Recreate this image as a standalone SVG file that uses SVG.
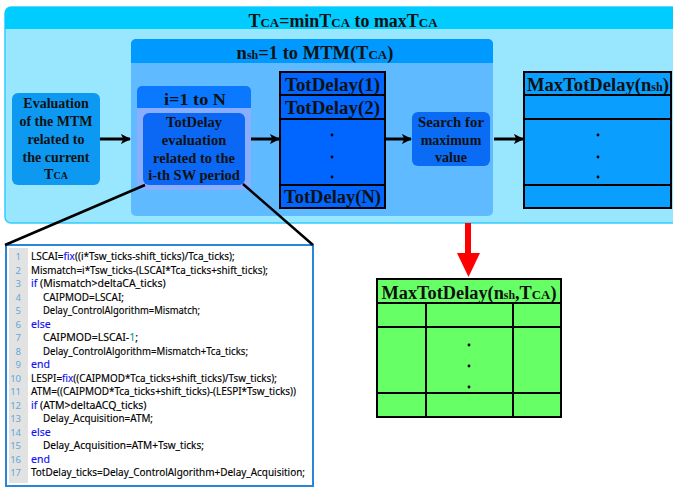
<svg xmlns="http://www.w3.org/2000/svg" width="673" height="487" viewBox="0 0 673 487">
<defs>
<marker id="ah" viewBox="0 0 10 10" refX="9" refY="5" markerWidth="3.4" markerHeight="3.4" orient="auto" markerUnits="strokeWidth">
<path d="M0,0 L10,5 L0,10 L2.5,5 Z" fill="#000"/>
</marker>
<style>
.t{font-family:"Liberation Serif","Times New Roman",serif;font-weight:bold;fill:#111;text-anchor:middle}
.c{font-family:"Noto Sans","Open Sans",sans-serif;font-size:10.5px;fill:#000;stroke:#000;stroke-width:0.15}
.n{font-family:"Noto Sans","Open Sans",sans-serif;font-size:9.5px;fill:#5FA8D8;text-anchor:end}
.k{fill:#1010F0;stroke:#1010F0}
.g{fill:#10A0A0;stroke:#10A0A0}
.cell{stroke:#000;stroke-width:2}
.con{stroke:#000;stroke-width:3;fill:none}
.dot{fill:#000}
</style>
</defs>
<rect width="673" height="487" fill="#fff"/>

<g id="outer-loop">
<rect x="5" y="7" width="690" height="216" rx="6" fill="#99E6FF" stroke="#33CCFF" stroke-width="1.5"/>
<path d="M5,29 V13 a6,6 0 0 1 6,-6 H695 V29 Z" fill="#00CCFF"/>
<text class="t" x="343" y="27" font-size="18" textLength="189" lengthAdjust="spacingAndGlyphs">T<tspan font-size="13">CA</tspan>=minT<tspan font-size="13">CA</tspan> to maxT<tspan font-size="13">CA</tspan></text>
</g>

<g id="nsh-loop">
<rect x="131" y="39" width="362" height="177" rx="5" fill="#60BAFF"/>
<path d="M131,63 V44 a5,5 0 0 1 5,-5 H488 a5,5 0 0 1 5,5 V63 Z" fill="#0099FF"/>
<text class="t" x="315" y="59" font-size="18.5">n<tspan font-size="12">sh</tspan>=1 to MTM(T<tspan font-size="13">CA</tspan>)</text>
</g>

<g id="eval-mtm">
<rect x="12" y="93" width="88" height="92" rx="6" fill="#0D99F2"/>
<text class="t" font-size="14"><tspan x="56" y="108">Evaluation</tspan><tspan x="56" y="126">of the MTM</tspan><tspan x="56" y="144">related to</tspan><tspan x="56" y="162">the current</tspan><tspan x="56" y="179">T<tspan font-size="10">CA</tspan></tspan></text>
</g>

<g id="i-loop">
<rect x="137" y="86" width="114" height="104" rx="5" fill="#8AAEFF"/>
<path d="M137,108 V91 a5,5 0 0 1 5,-5 H246 a5,5 0 0 1 5,5 V108 Z" fill="#0A78FF"/>
<text class="t" x="195" y="105" font-size="16" textLength="62" lengthAdjust="spacingAndGlyphs">i=1 to N</text>
</g>

<g id="totdelay-eval">
<rect x="143" y="113" width="102" height="72" rx="6" fill="#0A68F5"/>
<text class="t" font-size="14.5"><tspan x="194" y="127">TotDelay</tspan><tspan x="194" y="145">evaluation</tspan><tspan x="194" y="163">related to the</tspan><tspan x="194" y="180">i-th SW period</tspan></text>
</g>

<g id="totdelay-stack">
<rect class="cell" x="280" y="72" width="105" height="23" fill="#0066FF"/>
<rect class="cell" x="280" y="95" width="105" height="24" fill="#0066FF"/>
<rect class="cell" x="280" y="119" width="105" height="66" fill="#0066FF"/>
<rect class="cell" x="280" y="185" width="105" height="23" fill="#0066FF"/>
<text class="t" x="332.5" y="91" font-size="18.5" textLength="95" lengthAdjust="spacingAndGlyphs">TotDelay(1)</text>
<text class="t" x="332.5" y="114" font-size="18.5" textLength="95" lengthAdjust="spacingAndGlyphs">TotDelay(2)</text>
<text class="t" x="332.5" y="203" font-size="18.5" textLength="97" lengthAdjust="spacingAndGlyphs">TotDelay(N)</text>
<circle class="dot" cx="332" cy="135" r="1.4"/>
<circle class="dot" cx="332" cy="157" r="1.4"/>
<circle class="dot" cx="332" cy="177" r="1.4"/>
</g>

<g id="search-max">
<rect x="412" y="112" width="78" height="54" rx="6" fill="#0A6BF5"/>
<text class="t" font-size="14"><tspan x="451" y="127" textLength="66" lengthAdjust="spacingAndGlyphs">Search for</tspan><tspan x="451" y="145">maximum</tspan><tspan x="451" y="162">value</tspan></text>
</g>

<g id="maxtotdelay-nsh">
<rect class="cell" x="524" y="72" width="147" height="23" fill="#0A9EFF"/>
<rect class="cell" x="524" y="95" width="147" height="24" fill="#0A9EFF"/>
<rect class="cell" x="524" y="119" width="147" height="66" fill="#0A9EFF"/>
<rect class="cell" x="524" y="185" width="147" height="23" fill="#0A9EFF"/>
<text class="t" x="598" y="91" font-size="18.5" textLength="142" lengthAdjust="spacingAndGlyphs">MaxTotDelay(n<tspan font-size="12">sh</tspan>)</text>
<circle class="dot" cx="598" cy="135" r="1.4"/>
<circle class="dot" cx="598" cy="157" r="1.4"/>
<circle class="dot" cx="598" cy="177" r="1.4"/>
</g>

<g id="maxtotdelay-table">
<rect class="cell" x="377" y="279" width="184" height="24" fill="#66FF66"/>
<rect class="cell" x="377" y="303" width="184" height="114" fill="#66FF66"/>
<line class="cell" x1="377" y1="327" x2="561" y2="327"/>
<line class="cell" x1="377" y1="393" x2="561" y2="393"/>
<line class="cell" x1="426" y1="303" x2="426" y2="417"/>
<line class="cell" x1="513" y1="303" x2="513" y2="417"/>
<text class="t" x="469" y="299" font-size="18.5" textLength="175" lengthAdjust="spacingAndGlyphs">MaxTotDelay(n<tspan font-size="12">sh</tspan>,T<tspan font-size="13">CA</tspan>)</text>
<circle class="dot" cx="469" cy="345" r="1.4"/>
<circle class="dot" cx="469" cy="366" r="1.4"/>
<circle class="dot" cx="469" cy="387" r="1.4"/>
</g>

<g id="code">
<rect x="6" y="245" width="307" height="241" fill="#fff" stroke="#2A86D6" stroke-width="2"/>
<rect x="9" y="248" width="19" height="235" fill="#E2E2E2"/>
<g>
<text class="n" x="21" y="260">1</text>
<text class="n" x="21" y="273.5">2</text>
<text class="n" x="21" y="287">3</text>
<text class="n" x="21" y="300.5">4</text>
<text class="n" x="21" y="314">5</text>
<text class="n" x="21" y="327.5">6</text>
<text class="n" x="21" y="341">7</text>
<text class="n" x="21" y="354.5">8</text>
<text class="n" x="21" y="368">9</text>
<text class="n" x="21" y="381.5">10</text>
<text class="n" x="21" y="395">11</text>
<text class="n" x="21" y="408.5">12</text>
<text class="n" x="21" y="422">13</text>
<text class="n" x="21" y="435.5">14</text>
<text class="n" x="21" y="449">15</text>
<text class="n" x="21" y="462.5">16</text>
<text class="n" x="21" y="476">17</text>
</g>
<g>
<text class="c" x="31" y="260" style="font-size:10px">LSCAI=<tspan class="k">fix</tspan>((i*Tsw_ticks-shift_ticks)/Tca_ticks);</text>
<text class="c" x="31" y="273.5" textLength="237" lengthAdjust="spacingAndGlyphs">Mismatch=i*Tsw_ticks-(LSCAI*Tca_ticks+shift_ticks);</text>
<text class="c" x="31" y="287"><tspan class="k">if</tspan> (Mismatch&gt;deltaCA_ticks)</text>
<text class="c" x="43" y="300.5" textLength="81" lengthAdjust="spacingAndGlyphs">CAIPMOD=LSCAI;</text>
<text class="c" x="43" y="314" textLength="157" lengthAdjust="spacingAndGlyphs">Delay_ControlAlgorithm=Mismatch;</text>
<text class="c k" x="31" y="327.5">else</text>
<text class="c" x="43" y="341">CAIPMOD=LSCAI-<tspan class="g">1</tspan>;</text>
<text class="c" x="43" y="354.5" textLength="205" lengthAdjust="spacingAndGlyphs">Delay_ControlAlgorithm=Mismatch+Tca_ticks;</text>
<text class="c k" x="31" y="368">end</text>
<text class="c" x="31" y="381.5" style="font-size:9.9px">LESPI=<tspan class="k">fix</tspan>((CAIPMOD*Tca_ticks+shift_ticks)/Tsw_ticks);</text>
<text class="c" x="31" y="395" textLength="265" lengthAdjust="spacingAndGlyphs">ATM=((CAIPMOD*Tca_ticks+shift_ticks)-(LESPI*Tsw_ticks))</text>
<text class="c" x="31" y="408.5"><tspan class="k">if</tspan> (ATM&gt;deltaACQ_ticks)</text>
<text class="c" x="43" y="422" textLength="110" lengthAdjust="spacingAndGlyphs">Delay_Acquisition=ATM;</text>
<text class="c k" x="31" y="435.5">else</text>
<text class="c" x="43" y="449" textLength="161" lengthAdjust="spacingAndGlyphs">Delay_Acquisition=ATM+Tsw_ticks;</text>
<text class="c k" x="31" y="462.5">end</text>
<text class="c" x="31" y="476" textLength="274" lengthAdjust="spacingAndGlyphs">TotDelay_ticks=Delay_ControlAlgorithm+Delay_Acquisition;</text>
</g>
</g>

<g id="connectors">
<line class="con" x1="100" y1="139" x2="130" y2="139" marker-end="url(#ah)"/>
<line class="con" x1="251" y1="139" x2="279" y2="139" marker-end="url(#ah)"/>
<line class="con" x1="385" y1="139" x2="411" y2="139" marker-end="url(#ah)"/>
<line class="con" x1="494" y1="139" x2="523" y2="139" marker-end="url(#ah)"/>
<line x1="145" y1="185" x2="5" y2="245" stroke="#000" stroke-width="2.5"/>
<line x1="243" y1="184" x2="313" y2="245" stroke="#000" stroke-width="2.5"/>
<line x1="468" y1="223" x2="468" y2="255" stroke="#FF0000" stroke-width="6"/>
<polygon points="457,253 480,253 468.5,277" fill="#FF0000"/>
</g>
</svg>
